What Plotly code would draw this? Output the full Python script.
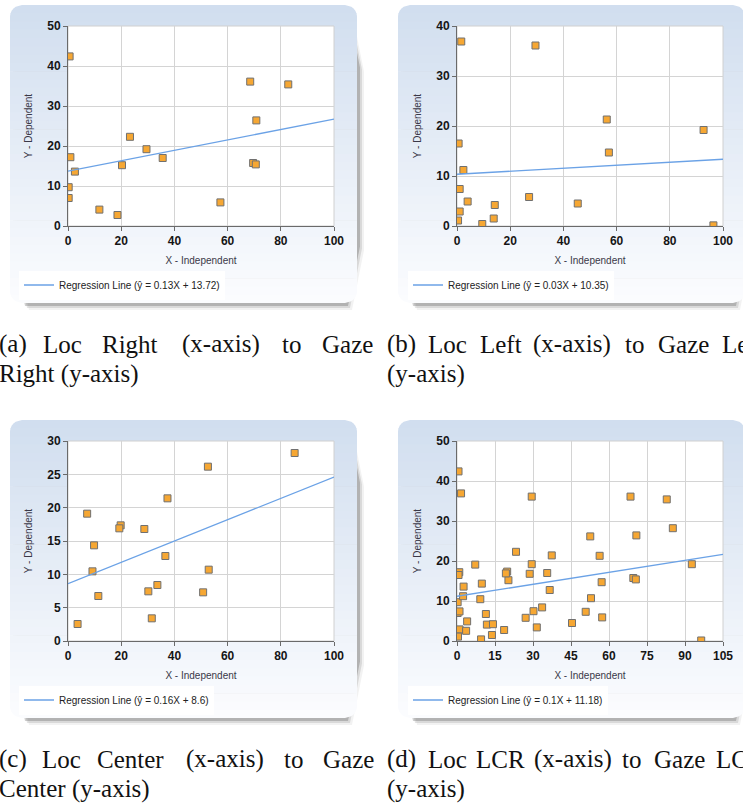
import math
import numpy as np
import plotly.graph_objects as go

W, H = 743, 805

# ---------------- data ----------------
right_x = [0.6, 0.9, 2.6, 0.25, 0.25, 11.8, 18.6, 20.3, 23.3, 29.5, 35.6, 57.3, 68.5, 69.6, 70.6, 70.8, 82.8]
right_y = [42.4, 17.2, 13.6, 9.7, 7.0, 4.1, 2.75, 15.2, 22.3, 19.2, 17.0, 5.9, 36.1, 15.75, 15.4, 26.4, 35.4]

left_x = [1.6, 29.5, 56.3, 92.7, 0.6, 57.1, 2.4, 1.0, 4.0, 1.0, 14.2, 27.1, 45.4, 0.4, 9.5, 13.8, 96.4]
left_y = [36.9, 36.1, 21.3, 19.2, 16.5, 14.7, 11.2, 7.4, 4.9, 2.9, 4.2, 5.8, 4.5, 1.1, 0.4, 1.5, 0.13]

center_x = [85.2, 52.6, 37.4, 7.2, 19.8, 19.3, 28.7, 9.8, 36.6, 9.2, 52.9, 33.6, 30.2, 50.8, 11.4, 31.5, 3.6]
center_y = [28.2, 26.15, 21.4, 19.1, 17.35, 16.9, 16.8, 14.35, 12.75, 10.45, 10.7, 8.4, 7.45, 7.3, 6.75, 3.4, 2.55]

# LCR = all locations together
lcr_x = right_x + left_x + center_x
lcr_y = right_y + left_y + center_y

reg_slope = [0.13, 0.03, 0.16, 0.1]
reg_icept = [13.72, 10.35, 8.6, 11.18]
reg_label = ["Regression Line (ŷ = 0.13X + 13.72)",
             "Regression Line (ŷ = 0.03X + 10.35)",
             "Regression Line (ŷ = 0.16X + 8.6)",
             "Regression Line (ŷ = 0.1X + 11.18)"]

x_max = [100, 100, 100, 105]
x_dtick = [20, 20, 20, 15]
y_max = [50, 40, 30, 50]
y_dtick = [10, 10, 5, 10]

captions = [
    [[("(a)", -1), ("Loc", 43), ("Right", 102), ("(x-axis)", 182), ("to", 282), ("Gaze", 322)],
     [("Right (y-axis)", -1)]],
    [[("(b)", 387), ("Loc", 428), ("Left", 480), ("(x-axis)", 533), ("to", 625), ("Gaze", 658), ("Left", 722)],
     [("(y-axis)", 387)]],
    [[("(c)", -1), ("Loc", 42), ("Center", 97), ("(x-axis)", 186), ("to", 284), ("Gaze", 323)],
     [("Center (y-axis)", -1)]],
    [[("(d)", 387), ("Loc", 428), ("LCR", 476), ("(x-axis)", 534), ("to", 622), ("Gaze", 654), ("LCR", 716)],
     [("(y-axis)", 387)]],
]

series = [(right_x, right_y), (left_x, left_y), (center_x, center_y), (lcr_x, lcr_y)]

# ---------------- layout geometry (pixels) ----------------
plot_px = [(68, 26, 334, 226), (457, 26, 723, 226), (68, 441, 334, 641), (457, 441, 723, 641)]
box_px = [(10, 5, 357, 303), (398, 5, 745, 303), (10, 420, 357, 718), (398, 420, 745, 718)]
cap_y = [(344, 374), (344, 374), (759, 789), (759, 789)]
legend_px = [(19, 285), (408, 285), (19, 700), (408, 700)]


def P(x, y):
    return x / W, 1 - y / H


def path_from(points):
    s = ""
    for i, (x, y) in enumerate(points):
        px, py = P(x, y)
        s += ("M" if i == 0 else "L") + f"{px:.5f},{py:.5f} "
    return s + "Z"


def inset(y, y0, y1, r):
    if y - y0 < r:
        d = r - (y - y0)
    elif y1 - y < r:
        d = r - (y1 - y)
    else:
        return 0.0
    return r - math.sqrt(max(r * r - d * d, 0.0))


def band_points(x0, y0, x1, y1, r, ya, yb):
    ys = np.linspace(ya, yb, 6)
    left = [(x0 + inset(y, y0, y1, r), y) for y in ys]
    right = [(x1 - inset(y, y0, y1, r), y) for y in ys[::-1]]
    return left + right


shapes = []
R = 12
top_c = np.array([209, 222, 239])
bot_c = np.array([252, 253, 255])
for (x0, y0, x1, y1) in box_px:
    # shadow
    for off, a in [(7, 0.05), (5, 0.10), (3, 0.18)]:
        shapes.append(dict(type="path", xref="paper", yref="paper", layer="below",
                           path=path_from(band_points(x0 + off, y0 + off, x1 + off, y1 + off, R,
                                                      y0 + off, y1 + off)),
                           fillcolor=f"rgba(0,0,0,{a})", line=dict(width=0)))
    # gradient body
    n = 36
    edges = np.linspace(y0, y1, n + 1)
    for i in range(n):
        ya, yb = edges[i], edges[i + 1]
        t = (0.5 * (ya + yb) - y0) / (y1 - y0)
        c = top_c + (bot_c - top_c) * t
        shapes.append(dict(type="path", xref="paper", yref="paper", layer="below",
                           path=path_from(band_points(x0, y0, x1, y1, R, ya, min(yb + 0.6, y1))),
                           fillcolor=f"rgb({int(c[0])},{int(c[1])},{int(c[2])})", line=dict(width=0)))

for (x0, y0, x1, y1) in plot_px:
    a0, b1 = P(x0, y0)
    a1, b0 = P(x1, y1)
    shapes.append(dict(type="rect", xref="paper", yref="paper", layer="below",
                       x0=a0, x1=a1, y0=b0, y1=b1, fillcolor="white",
                       line=dict(color="#d0d0d0", width=1)))

fig = go.Figure()
layout = dict(width=W, height=H, margin=dict(l=0, r=0, t=0, b=0, autoexpand=False),
              paper_bgcolor="white", plot_bgcolor="white", showlegend=True,
              shapes=shapes)

annotations = []
tickfont = dict(family="Liberation Sans", size=12, color="#151515", weight="bold")
titlefont = dict(family="Liberation Sans", size=10, color="#3a3848")

for k in range(4):
    sfx = "" if k == 0 else str(k + 1)
    x0, y0, x1, y1 = plot_px[k]
    dx0, dy1 = P(x0, y0)
    dx1, dy0 = P(x1, y1)
    xs, ys = series[k]
    fig.add_trace(go.Scatter(x=xs, y=ys, mode="markers", xaxis="x" + sfx, yaxis="y" + sfx,
                             marker=dict(symbol="square", size=7, color="#F6A733",
                                         line=dict(color="#707070", width=1)),
                             showlegend=False, hoverinfo="x+y"))
    lx = [0, x_max[k]]
    ly = [reg_slope[k] * v + reg_icept[k] for v in lx]
    leg = "legend" if k == 0 else "legend" + str(k + 1)
    fig.add_trace(go.Scatter(x=lx, y=ly, mode="lines", xaxis="x" + sfx, yaxis="y" + sfx,
                             line=dict(color="#6BA2E6", width=1.3), name=reg_label[k],
                             legend=leg, showlegend=True))
    lpx, lpy = legend_px[k]
    layout[leg] = dict(x=lpx / W, y=1 - lpy / H, xanchor="left", yanchor="middle",
                       bgcolor="white", borderwidth=0, itemwidth=30,
                       font=dict(family="Liberation Sans", size=10, color="#222222"))
    layout["xaxis" + sfx] = dict(domain=[dx0, dx1], anchor="y" + sfx, range=[0, x_max[k]],
                                 dtick=x_dtick[k], tick0=0, showgrid=True, gridcolor="#d4d4d4",
                                 zeroline=False, showline=True, linecolor="#6a6a6a", linewidth=1,
                                 ticks="outside", ticklen=4, tickcolor="#6a6a6a",
                                 tickfont=tickfont, fixedrange=True, automargin=False,
                                 title=dict(text="X - Independent", font=titlefont, standoff=9))
    layout["yaxis" + sfx] = dict(domain=[dy0, dy1], anchor="x" + sfx, range=[0, y_max[k]],
                                 dtick=y_dtick[k], tick0=0, showgrid=True, gridcolor="#d4d4d4",
                                 zeroline=False, showline=True, linecolor="#6a6a6a", linewidth=1,
                                 ticks="outside", ticklen=4, tickcolor="#6a6a6a",
                                 tickfont=tickfont, fixedrange=True, automargin=False,
                                 title=dict(text="Y - Dependent", font=titlefont, standoff=12))
    # captions
    for li, line in enumerate(captions[k]):
        for word, wx in line:
            annotations.append(dict(text=word, x=wx / W, y=1 - cap_y[k][li] / H,
                                    xref="paper", yref="paper", xanchor="left", yanchor="middle",
                                    showarrow=False, borderpad=0, borderwidth=0,
                                    font=dict(family="Liberation Serif", size=25, color="#111111")))

layout["annotations"] = annotations
fig.update_layout(**layout)
fig.write_html("out.html",
               config={"displayModeBar": False},
               post_script="document.body.style.margin='0';"
                           "document.documentElement.style.overflow='hidden';"
                           "document.body.style.overflow='hidden';")
